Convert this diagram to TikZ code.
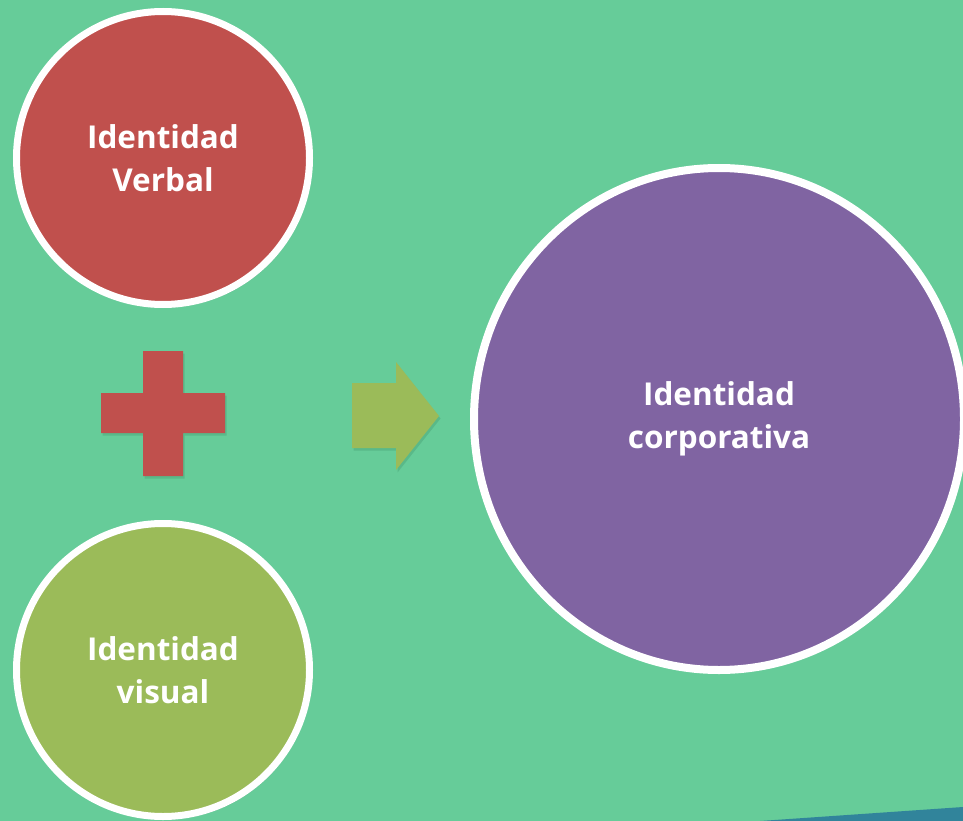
\documentclass[tikz,border=0pt]{standalone}
\usepackage{fontspec}
\setmainfont{Open Sans}
\usetikzlibrary{shadows,shapes.geometric}
\definecolor{bg}{RGB}{102,204,153}
\definecolor{cred}{RGB}{192,80,77}
\definecolor{cgreen}{RGB}{155,187,89}
\definecolor{cpurple}{RGB}{128,100,162}
\definecolor{cblue}{RGB}{49,132,155}
\definecolor{shadowc}{RGB}{40,110,75}
\tikzset{
  bubble/.style={circle, draw=white, line width=7pt, minimum size=293pt, inner sep=0pt,
    text=white, align=center, font=\fontsize{31.5}{43}\selectfont\bfseries,
    drop shadow={shadow xshift=2pt, shadow yshift=-3pt, opacity=0.3, fill=shadowc}},
  bigbubble/.style={ellipse, draw=white, line width=8pt, minimum width=490pt, minimum height=502pt, inner sep=0pt,
    text=white, align=center, font=\fontsize{31.5}{43}\selectfont\bfseries,
    drop shadow={shadow xshift=2pt, shadow yshift=-3pt, opacity=0.3, fill=shadowc}},
  plusshape/.style={fill=cred, drop shadow={shadow xshift=1.5pt, shadow yshift=-2.5pt, opacity=0.2, fill=shadowc}},
  arrowshape/.style={fill=cgreen, drop shadow={shadow xshift=1.5pt, shadow yshift=-2.5pt, opacity=0.2, fill=shadowc}}
}
\begin{document}
\begin{tikzpicture}[x=1pt,y=-1pt]
\useasboundingbox (0,0) rectangle (963,821);
\fill[bg] (0,0) rectangle (963,821);
\fill[cblue] (760,821) -- (963,807) -- (963,821) -- cycle;
\begin{scope}
\clip (0,0) rectangle (963,821);
\node[bubble, fill=cred] (verbal) at (163,158) {Identidad\\Verbal};
\node[bubble, fill=cgreen] (visual) at (163,670) {Identidad\\visual};
\node[bigbubble, fill=cpurple] (corp) at (719,419) {Identidad\\corporativa};
\end{scope}
\path[plusshape] (143,351) -- (183,351) -- (183,393) -- (225,393) -- (225,433) -- (183,433) -- (183,476) -- (143,476) -- (143,433) -- (101,433) -- (101,393) -- (143,393) -- cycle;
\path[arrowshape] (352,383) -- (396,383) -- (396,362) -- (439,416) -- (396,470) -- (396,448) -- (352,448) -- cycle;
\end{tikzpicture}
\end{document}
